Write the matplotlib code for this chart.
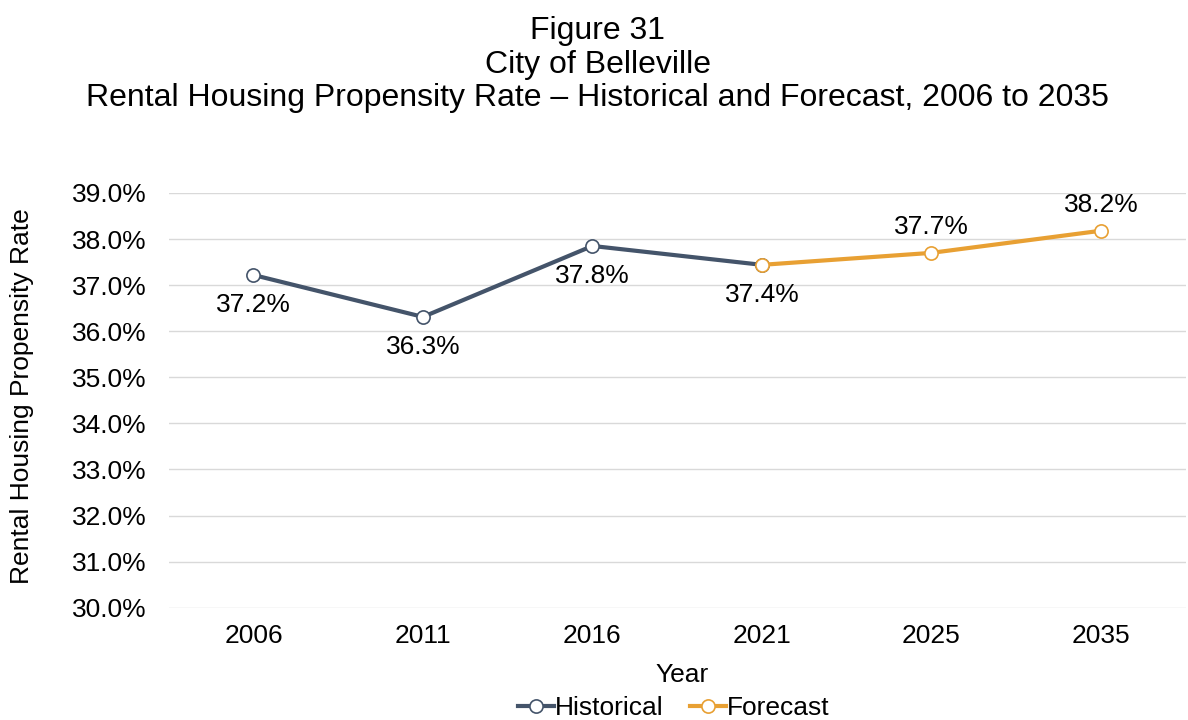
import matplotlib.pyplot as plt

plt.rcParams['font.family'] = ['Liberation Sans', 'DejaVu Sans']

years = ['2006', '2011', '2016', '2021', '2025', '2035']
historical = [37.22, 36.31, 37.85, 37.44]
forecast = [37.44, 37.70, 38.18]
hist_labels = ['37.2%', '36.3%', '37.8%', '37.4%']
fcst_labels = ['', '37.7%', '38.2%']

hist_color = '#44546A'
fcst_color = '#E8A033'

fig = plt.figure(figsize=(11.88, 7.2), dpi=100)
ax = fig.add_axes([0.142, 0.156, 0.856, 0.576])

hx = list(range(len(historical)))
fx = list(range(3, 3 + len(forecast)))
ax.plot(hx, historical, color=hist_color, lw=3, marker='o', ms=9.5,
        mfc='white', mec=hist_color, mew=1.2, label='Historical', zorder=3)
ax.plot(fx, forecast, color=fcst_color, lw=3, marker='o', ms=9.5,
        mfc='white', mec=fcst_color, mew=1.2, label='Forecast', zorder=4)

# data labels
for x, y, t in zip(hx, historical, hist_labels):
    ax.annotate(t, (x, y), xytext=(0, -13), textcoords='offset points',
                ha='center', va='top', fontsize=19)
for x, y, t in zip(fx, forecast, fcst_labels):
    if t:
        ax.annotate(t, (x, y), xytext=(0, 10), textcoords='offset points',
                    ha='center', va='bottom', fontsize=19)

ax.set_xlim(-0.5, 5.5)
ax.set_ylim(30, 39)
ax.set_xticks(range(len(years)))
ax.set_xticklabels(years)
ax.set_yticks([30 + i for i in range(10)])
ax.set_yticklabels(['%.1f%%' % (30 + i) for i in range(10)])
ax.tick_params(axis='both', labelsize=19, length=0)
ax.tick_params(axis='y', pad=16)
ax.tick_params(axis='x', pad=12)
ax.grid(axis='y', color='#D9D9D9', lw=1)
ax.set_axisbelow(True)
for s in ax.spines.values():
    s.set_visible(False)

fig.text(682 / 1188, 1 - 675 / 720, 'Year', ha='center', va='center', fontsize=19)
fig.text(22 / 1188, 1 - 396 / 720, 'Rental Housing Propensity Rate',
         rotation=90, ha='center', va='center', fontsize=19)

fig.text(0.503, 0.978, 'Figure 31\nCity of Belleville\n'
         'Rental Housing Propensity Rate \u2013 Historical and Forecast, 2006 to 2035',
         ha='center', va='top', fontsize=23, linespacing=1.16)

fig.legend(handles=ax.get_lines(), loc='center', bbox_to_anchor=(674 / 1188, 1 - 708 / 720),
           ncol=2, frameon=False, fontsize=19, handlelength=1.35, handletextpad=0.05,
           columnspacing=1.0, borderaxespad=0, borderpad=0)

fig.savefig('out.png', dpi=100)
